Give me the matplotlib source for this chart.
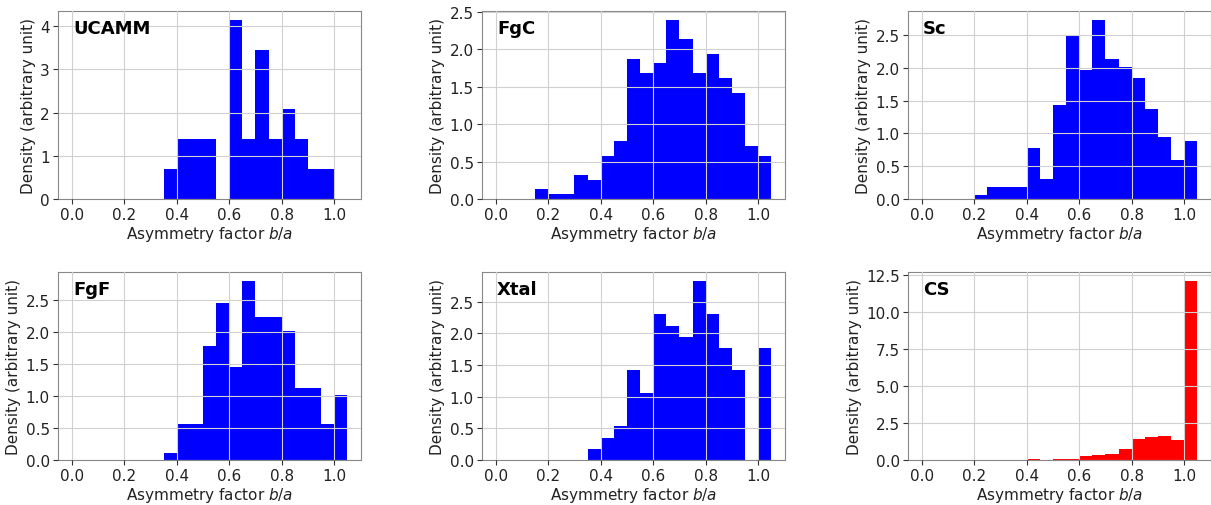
import numpy as np
import matplotlib
matplotlib.use("Agg")
import matplotlib.pyplot as plt

# bin edges 0.00 ... 1.05, width 0.05
edges = np.round(np.arange(0, 1.051, 0.05), 2)
centers = (edges[:-1] + edges[1:]) / 2

names = ["UCAMM", "FgC", "Sc", "FgF", "Xtal", "CS"]
colors = ["blue", "blue", "blue", "blue", "blue", "red"]

ucamm = [0, 0, 0, 0, 0, 0, 0, 0.69, 1.38, 1.38, 1.38, 0, 4.14, 1.38, 3.45, 1.38, 2.07, 1.38, 0.69, 0.69, 0]
fgc = [0, 0, 0, 0.13, 0.065, 0.065, 0.32, 0.26, 0.58, 0.77, 1.87, 1.68, 1.81, 2.39, 2.13, 1.68, 1.94, 1.61, 1.42, 0.71, 0.58]
sc = [0, 0, 0, 0, 0.06, 0.18, 0.18, 0.18, 0.77, 0.30, 1.43, 2.49, 1.96, 2.73, 2.14, 2.02, 1.84, 1.37, 0.95, 0.59, 0.89]
fgf = [0, 0, 0, 0, 0, 0, 0, 0.11, 0.56, 0.56, 1.79, 2.46, 1.45, 2.80, 2.24, 2.24, 2.02, 1.12, 1.12, 0.56, 1.01]
xtal = [0, 0, 0, 0, 0, 0, 0, 0.18, 0.35, 0.53, 1.42, 1.06, 2.30, 2.12, 1.95, 2.83, 2.30, 1.77, 1.42, 0, 1.77]
cs = [0, 0, 0, 0, 0, 0, 0, 0, 0.05, 0, 0.05, 0.06, 0.27, 0.33, 0.38, 0.77, 1.40, 1.55, 1.65, 1.33, 12.07]

data = [ucamm, fgc, sc, fgf, xtal, cs]

W, H = 1211, 506
fig = plt.figure(figsize=(W / 100, H / 100), dpi=100)

lefts = [58, 482, 908]
tops = [12, 273]
aw, ah = 303, 188

for i, (name, vals, col) in enumerate(zip(names, data, colors)):
    r, c = divmod(i, 3)
    ax = fig.add_axes([lefts[c] / W, 1 - (tops[r] + ah) / H, aw / W, ah / H])
    ax.hist(centers, bins=edges, weights=vals, color=col, linewidth=0)
    ax.set_xticks([0.0, 0.2, 0.4, 0.6, 0.8, 1.0])
    ax.grid(True, color="#d0d0d0", linewidth=0.8)
    ax.set_axisbelow(False)
    ax.tick_params(labelsize=11, colors="#333333", labelcolor="#222222", pad=2.5)
    for sp in ax.spines.values():
        sp.set_color("#888888")
    ax.set_xlabel("Asymmetry factor $b/a$", fontsize=11, color="#222222", labelpad=1)
    ax.set_ylabel("Density (arbitrary unit)", fontsize=11, color="#222222", labelpad=3)
    ax.text(0.05, 0.96, name, transform=ax.transAxes, ha="left", va="top",
            fontsize=13, fontweight="bold")

fig.savefig("out.png", dpi=100)
